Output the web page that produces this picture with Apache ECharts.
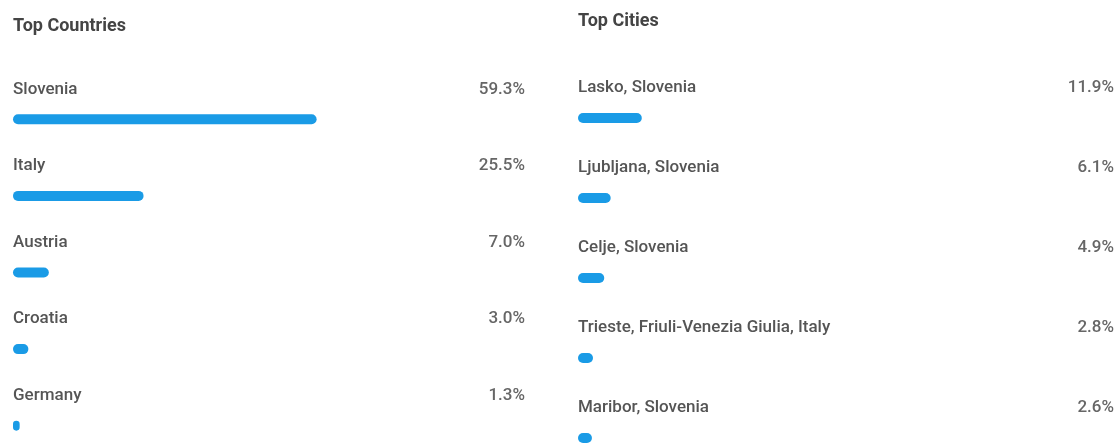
<!DOCTYPE html>
<html>
<head>
<meta charset="utf-8">
<script src="https://cdn.jsdelivr.net/npm/echarts@6/dist/echarts.min.js"></script>
<style>
  html, body { margin: 0; padding: 0; background: #fff; }
  #main { width: 1117px; height: 444px; }
</style>
</head>
<body>
<div id="main"></div>
<script>
const countries = ['Slovenia', 'Italy', 'Austria', 'Croatia', 'Germany']
const countryShare = [59.3, 25.5, 7.0, 3.0, 1.3]
const cities = ['Lasko, Slovenia', 'Ljubljana, Slovenia', 'Celje, Slovenia', 'Trieste, Friuli-Venezia Giulia, Italy', 'Maribor, Slovenia']
const cityShare = [11.9, 6.1, 4.9, 2.8, 2.6]

const BLUE = '#1a9be6'
const FONT = 'Roboto'

// one row label holds name on the left and percent on the right
function rowLabel (panelWidth) {
  return {
    show: true,
    position: [0, -25],
    verticalAlign: 'middle',
    formatter: p => '{n|' + p.name + '}{v|' + p.value.toFixed(1) + '%}',
    rich: {
      n: { width: panelWidth - 70, align: 'left', color: '#555', fontSize: 17, fontWeight: 500, fontFamily: FONT },
      v: { width: 70, align: 'right', color: '#666', fontSize: 17, fontWeight: 500, fontFamily: FONT }
    }
  }
}

function panelAxes (idx, names) {
  return {
    x: { gridIndex: idx, type: 'value', min: 0, max: 100, show: false },
    y: { gridIndex: idx, type: 'category', data: names, inverse: true, show: false }
  }
}

const left = panelAxes(0, countries)
const right = panelAxes(1, cities)

let chart = echarts.init(document.getElementById('main'))
chart.setOption({
  animation: false,
  title: [
    { text: 'Top Countries', left: 13, top: 17, padding: 0, textStyle: { color: '#444', fontSize: 18, fontWeight: 'bold', fontFamily: FONT } },
    { text: 'Top Cities', left: 578, top: 12, padding: 0, textStyle: { color: '#444', fontSize: 18, fontWeight: 'bold', fontFamily: FONT } }
  ],
  grid: [
    { left: 13, top: 81, width: 512, height: 383, outerBoundsMode: 'none' },
    { left: 578, top: 78, width: 536, height: 400, outerBoundsMode: 'none' }
  ],
  xAxis: [left.x, right.x],
  yAxis: [left.y, right.y],
  series: [
    {
      type: 'bar',
      xAxisIndex: 0,
      yAxisIndex: 0,
      data: countryShare,
      barWidth: 10,
      itemStyle: { color: BLUE, borderRadius: 5 },
      label: rowLabel(512),
      clip: false
    },
    {
      type: 'bar',
      xAxisIndex: 1,
      yAxisIndex: 1,
      data: cityShare,
      barWidth: 10,
      itemStyle: { color: BLUE, borderRadius: 5 },
      label: rowLabel(536),
      clip: false
    }
  ]
})
</script>
</body>
</html>
